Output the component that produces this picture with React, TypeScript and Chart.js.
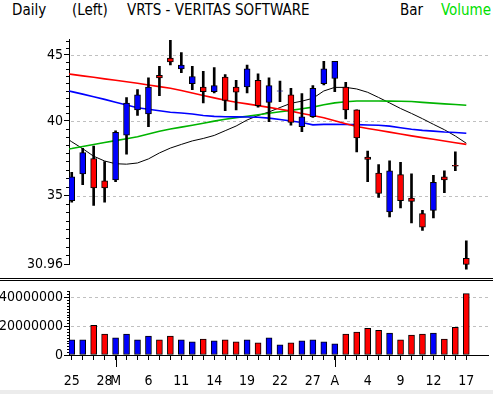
import React, { useEffect, useRef } from 'react';
import { Chart, registerables } from 'chart.js';

Chart.register(...registerables);

// ---------- data ----------
const dayLabels = ['25','26','27','28','M','4','5','6','7','8','11','12','13','14','15','18','19','20','21','22','25','26','27','28','A','2','3','4','5','8','9','10','11','12','15','16','17'];
const xTickLabels = ['25','','','28','M','','','6','','','11','','','14','','','19','','','22','','','27','','A','','','4','','','9','','','12','','','17'];
const monthStarts = [4, 24];

const openP = [34.7,36.4,37.4,35.95,36.0,39.0,40.8,40.5,43.4,44.75,43.9,42.75,42.5,42.15,43.25,42.5,42.5,43.0,41.35,42.18,41.9,39.6,40.3,42.75,43.15,42.5,40.8,37.5,36.45,34.0,36.35,34.85,33.9,34.1,36.2,36.95,31.3];
const highP = [36.5,38.1,38.25,37.2,39.3,41.7,42.3,43.2,44.1,46.2,45.2,44.1,43.7,44.0,43.45,43.0,44.2,43.5,43.2,42.95,42.4,42.0,42.6,44.5,44.5,42.85,40.8,37.9,37.0,37.25,37.15,36.4,34.1,36.3,36.6,37.85,32.3];
const lowP = [34.6,35.7,34.4,34.6,35.9,37.7,40.4,39.6,41.85,44.2,43.6,42.3,41.3,42.05,40.75,40.8,42.05,41.0,39.95,41.4,39.7,39.25,40.25,42.65,42.15,40.15,37.85,35.9,34.9,33.7,34.25,33.35,32.9,33.65,35.2,36.6,30.7];
const closeP = [36.2,37.8,35.5,35.5,39.2,41.3,41.9,42.5,43.2,44.45,44.2,43.3,42.15,42.6,41.5,42.1,43.9,41.1,42.6,42.2,39.9,40.3,42.4,43.9,44.5,40.8,38.8,37.35,35.15,36.6,34.7,34.65,33.1,35.85,36.0,36.9,30.96];

const volume = [10500000,10500000,20500000,14500000,11800000,14500000,10500000,13100000,10500000,13100000,10500000,9100000,11100000,9800000,10500000,9100000,10500000,8500000,11800000,7100000,8500000,9800000,10500000,9100000,7800000,14500000,15800000,18500000,17100000,15100000,10500000,13800000,14500000,15100000,11100000,19100000,42500000];

const maRed = [43.47,43.35,43.24,43.12,43.01,42.90,42.78,42.65,42.53,42.40,42.23,42.05,41.86,41.68,41.50,41.36,41.24,41.11,40.98,40.84,40.71,40.54,40.39,40.23,40.01,39.80,39.60,39.47,39.34,39.21,39.08,38.95,38.83,38.71,38.59,38.47,38.36];
const maBlue = [42.15,41.96,41.77,41.57,41.36,41.16,40.95,40.84,40.73,40.63,40.57,40.50,40.39,40.33,40.30,40.29,40.28,40.26,40.20,40.10,40.00,39.89,39.72,39.76,39.76,39.75,39.74,39.71,39.69,39.63,39.52,39.41,39.33,39.28,39.22,39.18,39.13];
const maGreen = [38.08,38.22,38.36,38.49,38.62,38.75,38.89,39.08,39.27,39.43,39.56,39.70,39.84,39.99,40.12,40.24,40.34,40.45,40.55,40.66,40.76,40.88,41.00,41.17,41.31,41.39,41.45,41.45,41.45,41.44,41.43,41.41,41.35,41.29,41.24,41.19,41.14];
const maBlack = [38.54,38.07,37.56,37.24,37.06,37.03,37.11,37.38,37.78,38.11,38.36,38.60,38.77,38.98,39.31,39.64,40.07,40.39,40.65,40.97,41.28,41.44,41.65,42.20,42.47,42.47,42.35,42.10,41.71,41.31,40.90,40.54,40.16,39.76,39.38,38.94,38.44];
// values of each average where it meets the left axis
const edgeRed = 43.5;
const edgeBlue = 42.2;
const edgeGreen = 38.05;
const edgeBlack = 38.67;

const priceTicks = [30.96, 35, 40, 45];
const priceGridValues = [35, 40, 45];
const volumeTicks = [0, 20000000, 40000000];
const volumeGridValues = [20000000, 40000000];

// ---------- style ----------
const FONT = "'DejaVu Sans Condensed', 'DejaVu Sans', sans-serif";
const TICK_SIZE = 14;
const HEAD_SIZE = 15;
const X_MIN = -0.25;
const X_MAX = 37.98;
const P_MIN = 30.96;
const P_MAX = 46.3;
const V_MAX = 44000000;
const UP = '#0000ff';
const DOWN = '#ff0000';

const minorPriceTicks: number[] = (() => {
  const out: number[] = [];
  const segs: [number, number, number][] = [[30.96, 35, 8], [35, 40, 9], [40, 45, 9]];
  segs.forEach(([a, b, n]) => { for (let k = 1; k < n; k++) out.push(a + (b - a) * k / n); });
  for (let v = 45 + 5 / 9; v <= P_MAX; v += 5 / 9) out.push(v);
  return out;
})();

const minorVolumeTicks: number[] = (() => {
  const out: number[] = [];
  for (let v = 2000000; v <= V_MAX; v += 2000000) if (v % 20000000 !== 0) out.push(v);
  return out;
})();

const candleColors = closeP.map((c, i) => (c >= openP[i] ? UP : DOWN));

const lineData = (edge: number, arr: number[]) => [{ x: X_MIN, y: edge }, ...arr.map((v, i) => ({ x: i, y: v }))];

const priceDecor = {
  id: 'priceDecor',
  beforeDatasetsDraw(chart: any) {
    const { ctx, chartArea: a, scales } = chart;
    const y = scales.y;
    ctx.save();
    ctx.strokeStyle = '#c0c0c0';
    ctx.lineWidth = 1;
    ctx.setLineDash([3, 3]);
    priceGridValues.forEach((v) => {
      const py = Math.round(y.getPixelForValue(v)) + 0.5;
      ctx.beginPath();
      ctx.moveTo(a.left + 2, py);
      ctx.lineTo(a.right, py);
      ctx.stroke();
    });
    ctx.setLineDash([]);
    ctx.strokeStyle = '#000';
    minorPriceTicks.forEach((v) => {
      const py = Math.round(y.getPixelForValue(v)) + 0.5;
      ctx.beginPath();
      ctx.moveTo(a.left - 3, py);
      ctx.lineTo(a.left, py);
      ctx.stroke();
    });
    ctx.restore();
  },
};

const volumeDecor = {
  id: 'volumeDecor',
  beforeDatasetsDraw(chart: any) {
    const { ctx, chartArea: a, scales } = chart;
    const y = scales.y;
    const x = scales.x;
    ctx.save();
    ctx.strokeStyle = '#c0c0c0';
    ctx.lineWidth = 1;
    ctx.setLineDash([3, 3]);
    volumeGridValues.forEach((v) => {
      const py = Math.round(y.getPixelForValue(v)) + 0.5;
      ctx.beginPath();
      ctx.moveTo(a.left + 2, py);
      ctx.lineTo(a.right, py);
      ctx.stroke();
    });
    ctx.setLineDash([]);
    ctx.strokeStyle = '#000';
    minorVolumeTicks.forEach((v) => {
      const py = Math.round(y.getPixelForValue(v)) + 0.5;
      ctx.beginPath();
      ctx.moveTo(a.left - 2, py);
      ctx.lineTo(a.left, py);
      ctx.stroke();
    });
    monthStarts.forEach((i) => {
      const px = Math.round(x.getPixelForValue(i)) + 0.5;
      ctx.beginPath();
      ctx.moveTo(px, a.bottom);
      ctx.lineTo(px, a.bottom + 12);
      ctx.stroke();
    });
    ctx.restore();
  },
};

export default function App() {
  const priceRef = useRef<HTMLCanvasElement | null>(null);
  const volRef = useRef<HTMLCanvasElement | null>(null);

  useEffect(() => {
    const clip = { left: 0, right: 0, top: 10, bottom: 10 };
    const priceChart = new Chart(priceRef.current as HTMLCanvasElement, {
      type: 'bar',
      data: {
        labels: dayLabels,
        datasets: [
          {
            type: 'bar',
            label: 'body',
            data: closeP.map((c, i) => ({ x: i, y: [openP[i], c] })) as any,
            backgroundColor: candleColors,
            borderColor: '#000',
            borderWidth: 1,
            borderSkipped: false,
            barThickness: 6,
            grouped: false,
            order: 0,
            clip,
          } as any,
          {
            type: 'bar',
            label: 'wick',
            data: highP.map((h, i) => ({ x: i, y: [lowP[i], h] })) as any,
            backgroundColor: '#000',
            borderWidth: 0,
            barThickness: 2,
            grouped: false,
            order: 1,
            clip,
          } as any,
          { type: 'line', label: 'maRed', data: lineData(edgeRed, maRed) as any, borderColor: '#ff0000', borderWidth: 1.6, pointRadius: 0, tension: 0, order: 3 } as any,
          { type: 'line', label: 'maBlue', data: lineData(edgeBlue, maBlue) as any, borderColor: '#0000ff', borderWidth: 1.6, pointRadius: 0, tension: 0, order: 3 } as any,
          { type: 'line', label: 'maGreen', data: lineData(edgeGreen, maGreen) as any, borderColor: '#00b400', borderWidth: 1.6, pointRadius: 0, tension: 0, order: 3 } as any,
          { type: 'line', label: 'maBlack', data: lineData(edgeBlack, maBlack) as any, borderColor: '#000000', borderWidth: 1, pointRadius: 0, tension: 0, order: 3 } as any,
        ],
      },
      options: {
        animation: false,
        responsive: false,
        events: [],
        layout: { padding: { top: 39, right: 5, bottom: 13.5, left: 0 } },
        plugins: { legend: { display: false }, tooltip: { enabled: false } },
        scales: {
          x: { type: 'linear', min: X_MIN, max: X_MAX, offset: false, display: false },
          y: {
            type: 'logarithmic',
            min: P_MIN,
            max: P_MAX,
            afterFit: (s: any) => { s.width = 69; },
            afterBuildTicks: (s: any) => { s.ticks = priceTicks.map((v) => ({ value: v })); },
            ticks: {
              autoSkip: false,
              color: '#000',
              padding: 1,
              font: { family: FONT, size: TICK_SIZE },
              callback: (v: any) => String(v),
            },
            grid: { drawOnChartArea: false, drawTicks: true, tickLength: 5, tickColor: '#000' },
            border: { display: true, color: '#000', width: 1 },
          },
        },
      } as any,
      plugins: [priceDecor],
    });

    const volChart = new Chart(volRef.current as HTMLCanvasElement, {
      type: 'bar',
      data: {
        labels: dayLabels,
        datasets: [
          {
            label: 'Volume',
            data: volume.map((v, i) => ({ x: i, y: v })) as any,
            backgroundColor: candleColors,
            borderColor: '#000',
            borderWidth: 1,
            borderSkipped: false,
            barThickness: 6,
            grouped: false,
          } as any,
        ],
      },
      options: {
        animation: false,
        responsive: false,
        events: [],
        layout: { padding: { top: 7, right: 5, bottom: 0, left: 0 } },
        plugins: { legend: { display: false }, tooltip: { enabled: false } },
        scales: {
          x: {
            type: 'linear',
            min: X_MIN,
            max: X_MAX,
            offset: false,
            afterFit: (s: any) => { s.height = 39; },
            afterBuildTicks: (s: any) => { s.ticks = xTickLabels.map((_, i) => ({ value: i })); },
            ticks: {
              autoSkip: false,
              maxRotation: 0,
              minRotation: 0,
              color: '#000',
              padding: 13,
              font: { family: FONT, size: TICK_SIZE },
              callback: (v: any) => xTickLabels[Math.round(v)] ?? '',
            },
            grid: { drawOnChartArea: false, drawTicks: true, tickLength: 5, tickColor: '#000', offset: false },
            border: { display: true, color: '#000', width: 1 },
          },
          y: {
            type: 'linear',
            min: 0,
            max: V_MAX,
            afterFit: (s: any) => { s.width = 69; },
            afterBuildTicks: (s: any) => { s.ticks = volumeTicks.map((v) => ({ value: v })); },
            ticks: {
              autoSkip: false,
              color: '#000',
              padding: 1,
              font: { family: FONT, size: TICK_SIZE },
              callback: (v: any) => String(v),
            },
            grid: { drawOnChartArea: false, drawTicks: true, tickLength: 5, tickColor: '#000' },
            border: { display: true, color: '#000', width: 1 },
          },
        },
      } as any,
      plugins: [volumeDecor],
    });

    return () => {
      priceChart.destroy();
      volChart.destroy();
    };
  }, []);

  const txt = (left: number, color = '#000'): React.CSSProperties => ({
    position: 'absolute',
    left,
    top: 2,
    fontFamily: FONT,
    fontSize: HEAD_SIZE,
    lineHeight: '16px',
    color,
    whiteSpace: 'nowrap',
  });

  return (
    <div style={{ position: 'fixed', left: 0, top: 0, width: 493, height: 394, background: '#fff', overflow: 'hidden' }}>
      <span style={txt(12)}>Daily</span>
      <span style={txt(72)}>(Left)</span>
      <span style={txt(127)}>VRTS - VERITAS SOFTWARE</span>
      <span style={txt(400)}>Bar</span>
      <span style={txt(441, '#00e000')}>Volume</span>
      <canvas ref={priceRef} width={493} height={278} style={{ position: 'absolute', left: 0, top: 0 }} />
      <div style={{ position: 'absolute', left: 0, top: 278, width: 493, height: 1, background: '#000' }} />
      <div style={{ position: 'absolute', left: 0, top: 280, width: 493, height: 1, background: '#000' }} />
      <canvas ref={volRef} width={493} height={112} style={{ position: 'absolute', left: 0, top: 282 }} />
      <div style={{ position: 'absolute', left: 0, top: 390, width: 493, height: 4, background: '#ececec' }} />
    </div>
  );
}
